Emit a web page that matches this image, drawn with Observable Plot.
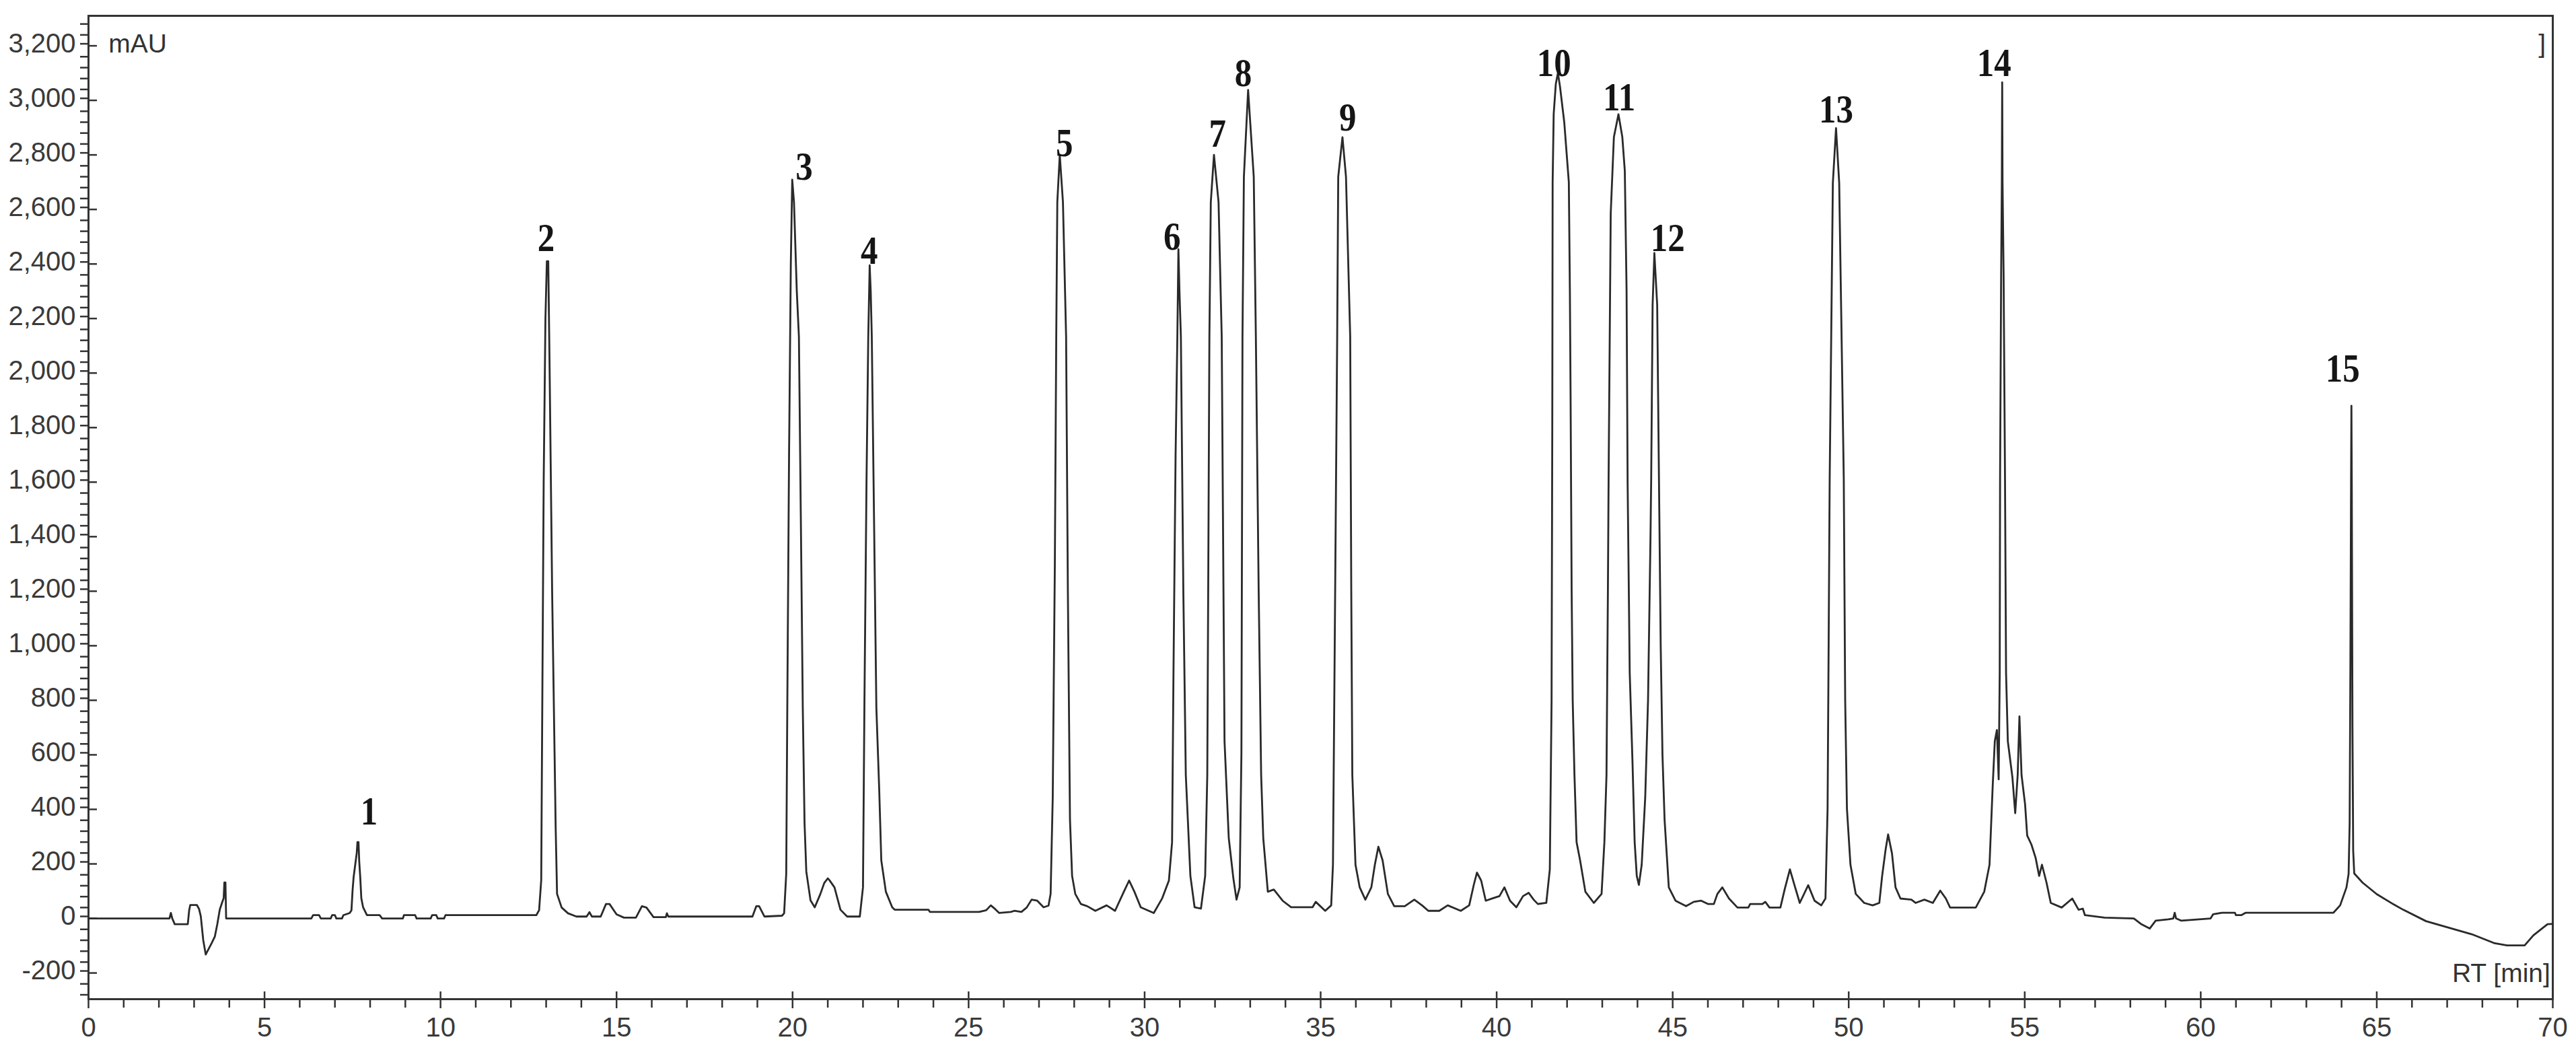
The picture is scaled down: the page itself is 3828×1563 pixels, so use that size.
<!DOCTYPE html>
<html>
<head>
<meta charset="utf-8">
<script src="https://cdn.jsdelivr.net/npm/d3@7"></script>
<script src="https://cdn.jsdelivr.net/npm/@observablehq/plot@0.6"></script>
<style>
  html, body { margin: 0; padding: 0; background: #fff; overflow: hidden; }
  #chart svg { display: block; }
</style>
</head>
<body>
<div id="chart"></div>
<script>
// Chromatogram trace: [retention time (min), absorbance (mAU)]
const trace = [
  [0,0],[2.30,0],[2.34,20],[2.38,0],[2.45,-21],[2.82,-21],[2.86,30],[2.89,49],[3.08,49],[3.14,35],[3.19,8],
  [3.26,-80],[3.33,-132],[3.40,-115],[3.50,-90],[3.59,-66],[3.66,-20],[3.73,33],[3.80,60],[3.84,74],[3.86,132],
  [3.89,132],[3.91,0],[6.33,0],[6.38,12],[6.55,12],[6.60,0],[6.88,0],[6.92,12],[7.00,12],[7.04,0],[7.20,0],
  [7.24,12],[7.42,20],[7.47,30],[7.50,100],[7.53,150],[7.58,200],[7.62,240],[7.64,280],[7.67,280],[7.69,210],
  [7.72,150],[7.75,74],[7.80,41],[7.86,25],[7.91,12],[8.27,12],[8.34,0],[8.93,0],[8.96,12],[9.28,12],[9.32,0],
  [9.72,0],[9.76,12],[9.88,12],[9.92,0],[10.10,0],[10.14,12],[12.72,12],
  [12.80,30],[12.86,140],[12.89,773],[12.93,1600],[12.98,2200],[13.02,2410],[13.06,2410],[13.10,2000],
  [13.17,1200],[13.24,600],[13.27,337],[13.31,90],[13.44,40],[13.62,19],[13.86,7],[14.15,7],[14.23,23],
  [14.30,7],[14.55,7],[14.70,53],[14.80,53],[15.00,15],[15.21,3],[15.55,3],[15.72,45],[15.85,40],[16.05,5],
  [16.40,5],[16.43,19],[16.47,7],[18.86,7],[18.97,45],[19.05,45],[19.20,7],[19.70,10],[19.76,19],[19.82,164],
  [19.85,773],[19.90,1700],[19.95,2400],[19.99,2709],[20.04,2627],[20.12,2300],[20.18,2133],[20.24,1400],
  [20.29,773],[20.34,350],[20.39,172],[20.51,66],[20.63,41],[20.79,90],[20.90,130],[21.00,147],[21.05,140],
  [21.19,114],[21.36,32],[21.55,7],[21.91,7],[22.00,114],
  [22.04,773],[22.10,1600],[22.15,2133],[22.19,2395],[22.22,2300],[22.25,2133],[22.32,1400],[22.38,773],
  [22.46,477],[22.52,213],[22.65,98],[22.83,41],[22.90,32],[23.86,32],[23.90,24],[25.30,24],[25.50,30],
  [25.63,48],[25.75,35],[25.87,20],[26.20,24],[26.30,28],[26.50,24],[26.65,40],[26.79,69],[26.95,65],
  [27.13,41],[27.27,47],[27.33,90],
  [27.39,444],[27.45,1300],[27.49,2133],[27.52,2627],[27.59,2800],[27.68,2627],[27.77,2133],[27.82,1200],
  [27.88,362],[27.94,156],[28.03,90],[28.19,53],[28.37,45],[28.60,28],[28.92,48],[29.16,28],[29.41,98],
  [29.56,139],[29.71,98],[29.89,41],[30.26,20],[30.50,74],[30.69,139],[30.78,280],
  [30.82,900],[30.88,1700],[30.93,2133],[30.96,2454],[30.99,2300],[31.03,2133],[31.10,1200],[31.17,526],
  [31.30,156],[31.42,41],[31.60,36],[31.72,156],[31.78,526],
  [31.81,1300],[31.84,2133],[31.88,2627],[31.97,2800],[32.10,2627],[32.19,2133],[32.24,1200],[32.27,650],
  [32.39,295],[32.52,148],[32.61,69],[32.70,114],[32.75,609],
  [32.78,2133],[32.82,2720],[32.94,3038],[33.10,2720],[33.16,2133],[33.24,1200],[33.31,526],[33.37,295],
  [33.50,98],[33.67,106],[33.92,65],[34.16,41],[34.77,41],[34.86,61],[35.13,28],[35.30,48],[35.35,197],
  [35.40,1000],[35.47,2133],[35.50,2720],[35.62,2865],[35.72,2720],[35.84,2133],[35.87,1200],[35.90,526],
  [35.99,197],[36.11,114],[36.27,69],[36.44,114],[36.54,197],[36.64,263],[36.76,213],[36.91,90],[37.09,45],
  [37.39,45],[37.66,69],[37.88,48],[38.06,28],[38.37,28],[38.61,48],[38.98,28],[39.22,48],[39.35,123],
  [39.44,168],[39.56,139],[39.69,65],[39.89,74],[40.08,82],[40.22,114],[40.38,65],[40.56,41],[40.75,82],
  [40.91,94],[41.05,69],[41.17,53],[41.41,57],[41.51,180],
  [41.56,800],[41.58,1800],[41.59,2700],[41.62,2950],[41.68,3060],[41.74,3100],[41.80,3050],[41.92,2920],
  [42.05,2700],[42.08,2300],[42.10,1915],[42.13,1200],[42.16,800],[42.21,526],[42.27,280],[42.37,213],
  [42.52,98],[42.76,57],[42.98,90],[43.06,280],[43.12,526],
  [43.16,1200],[43.18,1615],[43.24,2585],[43.33,2865],[43.46,2949],[43.57,2865],[43.64,2742],[43.69,2306],
  [43.72,1600],[43.78,900],[43.86,567],[43.92,280],[43.98,156],[44.04,123],[44.12,197],[44.22,444],
  [44.30,800],[44.37,1400],[44.39,1615],[44.43,2250],[44.48,2440],[44.56,2250],[44.61,1615],[44.66,1000],
  [44.71,600],[44.77,362],[44.89,114],[45.08,65],[45.38,45],[45.60,61],[45.81,65],[46.00,53],[46.17,53],
  [46.27,90],[46.41,114],[46.60,73],[46.84,40],[47.15,40],[47.20,53],[47.55,53],[47.63,61],[47.75,40],
  [48.06,40],[48.18,106],[48.33,180],[48.46,122],[48.61,57],[48.85,122],[49.03,65],[49.22,48],[49.34,73],
  [49.40,402],
  [49.43,1000],[49.46,1615],[49.55,2697],[49.64,2898],[49.73,2697],[49.86,1615],[49.90,800],[49.95,402],
  [50.05,197],[50.20,90],[50.44,57],[50.68,48],[50.87,57],[50.95,156],[51.05,254],[51.12,308],[51.23,238],
  [51.33,114],[51.47,73],[51.78,69],[51.90,57],[52.15,69],[52.39,57],[52.60,102],[52.76,73],[52.88,40],
  [53.61,40],[53.85,98],[54.00,197],[54.09,485],[54.15,650],[54.21,691],[54.26,510],
  [54.29,900],[54.30,1615],[54.33,2362],[54.35,2700],[54.36,3066],[54.37,2700],[54.40,2362],[54.44,1615],
  [54.47,900],[54.52,650],[54.65,518],[54.73,386],[54.80,526],[54.85,741],[54.91,526],[55.01,419],[55.07,304],
  [55.19,271],[55.31,222],[55.41,156],[55.49,197],[55.62,131],[55.74,57],[56.05,40],[56.35,73],[56.53,32],
  [56.65,36],[56.71,12],[57.27,3],[58.10,0],[58.30,-20],[58.55,-37],[58.72,-8],[59.08,-3],[59.22,0],[59.26,21],
  [59.30,0],[59.44,-8],[60.28,0],[60.35,15],[60.60,21],[60.97,21],[61.00,12],[61.15,12],[61.28,21],[63.77,21],
  [63.96,48],[64.14,114],[64.20,163],
  [64.23,350],[64.25,900],[64.27,1600],[64.28,1880],[64.29,1600],[64.31,700],[64.33,250],[64.36,165],
  [64.60,131],[65.00,89],[65.50,50],[65.75,32],[66.40,-10],[67.05,-34],[67.70,-58],[68.35,-91],[68.70,-99],
  [69.20,-99],[69.45,-62],[69.85,-21],[70.00,-20]
];

// Peak labels
const peakNumbers = ["1","2","3","4","5","6","7","8","9","10","11","12","13","14","15"];
const peakLabelRT = [7.97, 13.0, 20.33, 22.18, 27.72, 30.78, 32.07, 32.80, 35.77, 41.63, 43.48, 44.86, 49.64, 54.13, 64.03];
const peakLabelMAU = [345, 2448, 2710, 2400, 2795, 2452, 2830, 3053, 2890, 3090, 2964, 2448, 2918, 3090, 1968];

// Axis ticks
const xMajorTicks = [0, 5, 10, 15, 20, 25, 30, 35, 40, 45, 50, 55, 60, 65, 70];
const xMinorTicks = d3.range(0, 71, 1).filter(d => d % 5 !== 0);
const yMajorTicks = [-200, 0, 200, 400, 600, 800, 1000, 1200, 1400, 1600, 1800, 2000, 2200, 2400, 2600, 2800, 3000, 3200];
const yMinorTicks = d3.range(-280, 3300, 40).filter(d => d % 200 !== 0);

// Annotation texts
const unitLabel = ["mAU"];
const timeLabel = ["RT [min]"];
const cornerMark = ["]"];

const axisColor = "#333";
const fmt = d => d.toLocaleString("en-US");
const blank = () => "";

const chart = Plot.plot({
  width: 3828,
  height: 1563,
  marginLeft: 131,
  marginRight: 35,
  marginTop: 23,
  marginBottom: 79,
  x: {domain: [0, 70], label: null},
  y: {domain: [-296, 3310], label: null},
  style: {
    fontFamily: "'Liberation Sans', Arial, sans-serif",
    fontSize: "40px",
    color: "#3a3a3a",
    background: "#fff"
  },
  marks: [
    Plot.axisY(yMinorTicks, {tickSize: 12, tickFormat: blank, stroke: axisColor, strokeWidth: 2.5, label: null}),
    Plot.axisY(yMajorTicks, {tickSize: 12, tickPadding: 7, tickFormat: fmt, stroke: axisColor, strokeWidth: 2.5, dy: -3, label: null}),
    Plot.axisY(yMajorTicks, {tickSize: -13, tickFormat: blank, stroke: axisColor, strokeWidth: 2.5, label: null}),
    Plot.axisX(xMinorTicks, {tickSize: 13, tickFormat: blank, stroke: axisColor, strokeWidth: 2.5, label: null}),
    Plot.axisX(xMajorTicks, {tickSize: 14, tickPadding: 13, tickFormat: d => String(d), stroke: axisColor, strokeWidth: 2.5, label: null}),
    Plot.axisX(xMajorTicks, {tickSize: -11, tickFormat: blank, stroke: axisColor, strokeWidth: 2.5, label: null}),
    Plot.frame({stroke: axisColor, strokeWidth: 3}),
    Plot.line(trace, {x: d => d[0], y: d => d[1], stroke: "#2a2a2a", strokeWidth: 2.8, strokeLinejoin: "round"}),
    Plot.text(peakNumbers, {
      x: (d, i) => peakLabelRT[i],
      y: (d, i) => peakLabelMAU[i],
      text: d => d,
      textAnchor: "middle",
      lineAnchor: "bottom",
      fontFamily: "'Liberation Serif', 'Times New Roman', serif",
      fontWeight: "bold",
      fontSize: 60,
      fill: "#151515"
    }),
    Plot.text(unitLabel, {x: 0.57, y: 3175, text: d => d, textAnchor: "start", lineAnchor: "bottom", fontSize: 39, fill: "#333"}),
    Plot.text(cornerMark, {x: 69.8, y: 3175, text: d => d, textAnchor: "end", lineAnchor: "bottom", fontSize: 39, fill: "#333"}),
    Plot.text(timeLabel, {x: 69.93, y: -232, text: d => d, textAnchor: "end", lineAnchor: "bottom", fontSize: 39, fill: "#333"})
  ]
});

// Peak numbers in the reference look horizontally condensed: narrow each glyph run in place
d3.select(chart).selectAll("g[font-family*='Serif'] text").each(function () {
  const t = this.getAttribute("transform") || "";
  this.setAttribute("transform", t + " scale(0.85,1)");
});

document.getElementById("chart").appendChild(chart);
</script>
</body>
</html>
